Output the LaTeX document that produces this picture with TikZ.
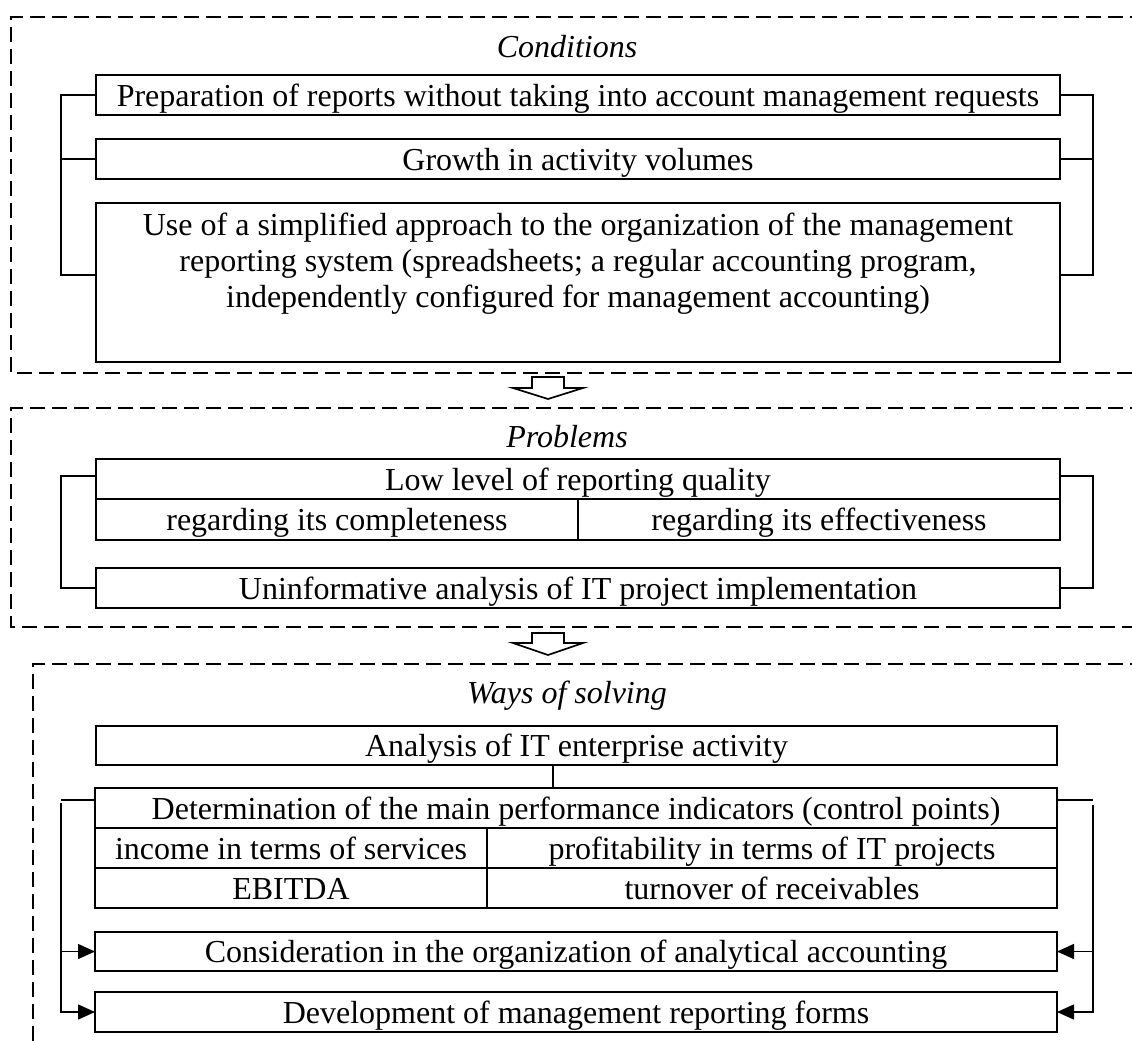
\documentclass[tikz,border=0pt]{standalone}
\usepackage{fontspec}
\setmainfont{Liberation Serif}
\usetikzlibrary{arrows.meta}
\tikzset{
  box/.style={draw, line width=1.8pt, inner sep=0pt, outer sep=0pt, anchor=north west, align=center, text height=25pt, text depth=3pt, font=\fontsize{32}{36}\selectfont},
  txt/.style={inner sep=0pt, outer sep=0pt, align=center, font=\fontsize{32}{36}\selectfont},
  lbl/.style={inner sep=0pt, anchor=base, font=\fontsize{32}{36}\selectfont\itshape},
  frame/.style={dash pattern=on 15pt off 7pt, line width=1.7pt},
  conn/.style={line width=1.5pt},
  arr/.style={-{Triangle[length=17pt,width=15pt]}},
  blockarrow/.style={draw, line width=1.7pt, fill=white, line join=miter}
}
\newcommand\mycell[6]{\node[box, minimum width={#4pt-#2pt}, minimum height={#5pt-#3pt}] (#1) at (#2,#3) {#6};}
\begin{document}
\begin{tikzpicture}[x=1pt,y=-1pt]
\useasboundingbox (0,0) rectangle (1132,1041);
\clip (0,0) rectangle (1132,1041);
\fill[white] (0,0) rectangle (1132,1041);

% dashed frames
\draw[frame] (1145,17) -- (11,17) -- (11,373) -- (1145,373);
\draw[frame] (1145,408) -- (11,408) -- (11,627) -- (1145,627);
\draw[frame] (1145,664) -- (33,664) -- (33,1060);

% bracket columns
\coordinate (bl) at (61,0);
\coordinate (br) at (1093,0);

% Conditions
\node[lbl] (t1) at (567,58) {Conditions};
\mycell{c1}{96}{75}{1060}{115}{Preparation of reports without taking into account management requests}
\mycell{c2}{96}{139}{1060}{179}{Growth in activity volumes}
\mycell{c3}{96}{203}{1060}{362}{}
\node[txt, anchor=north] (c3t) at (578,213) {Use of a simplified approach to the organization of the management\\reporting system (spreadsheets; a regular accounting program,\\independently configured for management accounting)};
\coordinate (c3j) at (96,275);
\coordinate (c3jr) at (1060,275);
\draw[conn] (c1.west) -- (c1.west -| bl) |- (c3j);
\draw[conn] (c2.west) -- (c2.west -| bl);
\draw[conn] (c1.east) -- (c1.east -| br) |- (c3jr);
\draw[conn] (c2.east) -- (c2.east -| br);

% arrow 1
\draw[blockarrow] (532,377) -- (564,377) -- (564,388) -- (583,388) -- (548,399) -- (513,388) -- (532,388) -- cycle;

% Problems
\node[lbl] (t2) at (567,447) {Problems};
\mycell{p1}{96}{459}{1060}{499}{Low level of reporting quality}
\mycell{p2}{96}{499}{578}{540}{regarding its completeness}
\mycell{p3}{578}{499}{1060}{540}{regarding its effectiveness}
\mycell{p4}{96}{568}{1060}{608}{Uninformative analysis of IT project implementation}
\coordinate (pj) at (96,476);
\coordinate (pjr) at (1060,476);
\draw[conn] (pj) -- (pj -| bl) |- (p4.west);
\draw[conn] (pjr) -- (pjr -| br) |- (p4.east);

% arrow 2
\draw[blockarrow] (532,633) -- (564,633) -- (564,643) -- (583,643) -- (548,655) -- (513,643) -- (532,643) -- cycle;

% Ways of solving
\node[lbl] (t3) at (567,703) {Ways of solving};
\mycell{w0}{96}{726}{1057}{765}{Analysis of IT enterprise activity}
\mycell{d1}{95}{788}{1057}{828}{Determination of the main performance indicators (control points)}
\mycell{d2}{95}{828}{487}{868}{income in terms of services}
\mycell{d3}{487}{828}{1057}{868}{profitability in terms of IT projects}
\mycell{d4}{95}{868}{487}{908}{EBITDA}
\mycell{d5}{487}{868}{1057}{908}{turnover of receivables}
\mycell{k1}{95}{932}{1057}{971}{Consideration in the organization of analytical accounting}
\mycell{k2}{95}{992}{1057}{1032}{Development of management reporting forms}

\coordinate (xa) at (553,0);
\draw[conn] (w0.south -| xa) -- (d1.north -| xa);

\coordinate (dj) at (95,800);
\coordinate (djr) at (1057,800);
\coordinate (bt) at (61,803);
\coordinate (btr) at (1093,805);
\draw[conn] (dj) -- (dj -| bl);
\draw[conn] (djr) -- (djr -| br);
\draw[conn, arr] (bt) |- (k2.west);
\draw[conn, arr] (k1.west -| bl) -- (k1.west);
\draw[conn, arr] (btr) |- (k2.east);
\draw[conn, arr] (k1.east -| br) -- (k1.east);
\end{tikzpicture}
\end{document}
